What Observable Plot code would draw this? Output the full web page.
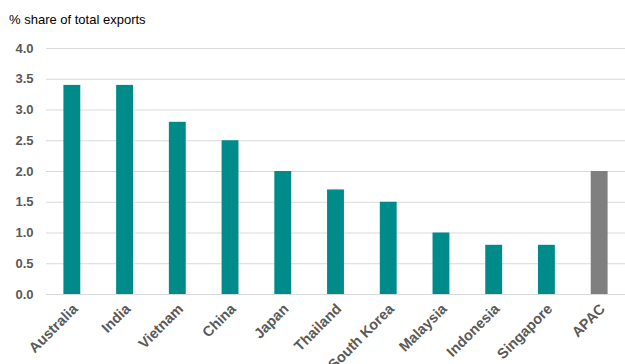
<!DOCTYPE html>
<html>
<head>
<meta charset="utf-8">
<script src="https://cdn.jsdelivr.net/npm/d3@7"></script>
<script src="https://cdn.jsdelivr.net/npm/@observablehq/plot@0.6"></script>
<style>
  body { margin: 0; background: #fff; font-family: "Liberation Sans", Arial, sans-serif; }
  #title { height: 34px; font-size: 13px; color: #000; padding-left: 9px; line-height: 40px; box-sizing: border-box; }
</style>
</head>
<body>
<div id="title">% share of total exports</div>
<div id="chart"></div>
<script>
const countries = ["Australia", "India", "Vietnam", "China", "Japan", "Thailand", "South Korea", "Malaysia", "Indonesia", "Singapore", "APAC"];
const shares = [3.4, 3.4, 2.8, 2.5, 2.0, 1.7, 1.5, 1.0, 0.8, 0.8, 2.0];
const yTicks = [0, 0.5, 1, 1.5, 2, 2.5, 3, 3.5, 4];

const data = countries.map((c, i) => ({country: c, share: shares[i], group: c === "APAC" ? "apac" : "country"}));

const chart = Plot.plot({
  width: 625,
  height: 330,
  marginLeft: 46,
  marginRight: 0,
  marginTop: 14,
  marginBottom: 70,
  style: {fontFamily: "'Liberation Sans', Arial, sans-serif", fontSize: "13px", fontWeight: "bold", color: "#595959", background: "#fff"},
  x: {domain: countries, paddingInner: 0.68, paddingOuter: 0.33, round: false, label: null},
  y: {domain: [0, 4], ticks: yTicks, label: null},
  color: {domain: ["country", "apac"], range: ["#008B8B", "#7F7F7F"]},
  marks: [
    Plot.gridY(yTicks, {stroke: "#d9d9d9", strokeOpacity: 1, strokeWidth: 1}),
    Plot.axisY(yTicks, {tickSize: 0, tickPadding: 13, tickFormat: d => d.toFixed(1), label: null}),
    Plot.barY(data, {x: "country", y: "share", fill: "group"}),
    Plot.axisX({tickSize: 0, tickRotate: -45, tickPadding: 12, dx: 3, fontSize: 14.5, label: null})
  ]
});
document.getElementById("chart").appendChild(chart);
</script>
</body>
</html>
